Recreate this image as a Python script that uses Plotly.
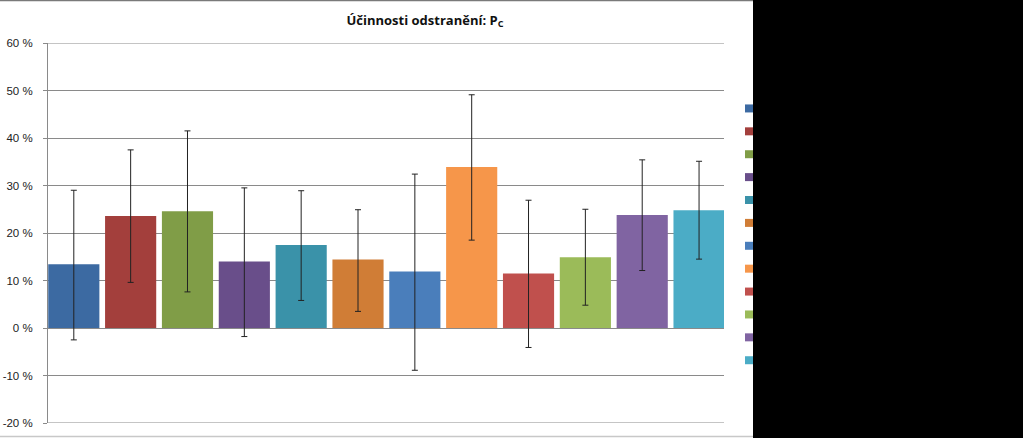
import plotly.graph_objects as go

# ---- data ----
categories = [1, 2, 3, 4, 5, 6, 7, 8, 9, 10, 11, 12]
values = [13.4, 23.6, 24.6, 14.0, 17.5, 14.4, 11.9, 33.9, 11.5, 14.9, 23.8, 24.8]
err_plus = [15.6, 13.9, 16.9, 15.5, 11.4, 10.5, 20.5, 15.2, 15.4, 10.1, 11.6, 10.3]
err_minus = [15.9, 14.0, 17.0, 15.8, 11.7, 10.9, 20.8, 15.4, 15.6, 10.1, 11.7, 10.3]
colors = ["#3C6AA2", "#A33F3C", "#809D47", "#694E8A", "#3A92A9", "#D07D36",
          "#4A7EBB", "#F6964A", "#C0504D", "#9BBB59", "#8064A2", "#4BACC6"]
tick_vals = [-20, -10, 0, 10, 20, 30, 40, 50, 60]
tick_text = ["-20 %", "-10 %", "0 %", "10 %", "20 %", "30 %", "40 %", "50 %", "60 %"]
title_text = "Účinnosti odstranění: P<sub>C</sub>"

fig = go.Figure()
fig.add_trace(go.Bar(
    x=categories, y=values, width=0.9,
    marker=dict(color=colors, line=dict(width=0)),
    error_y=dict(type="data", symmetric=False, array=err_plus, arrayminus=err_minus,
                 color="#222222", thickness=1, width=3),
    showlegend=False,
))
# legend entries (labels are hidden behind the black panel in the reference)
for c in colors:
    fig.add_trace(go.Scatter(
        x=[None], y=[None], mode="markers", name=" ",
        marker=dict(symbol="square", size=8, color=c),
    ))

GRID = "#8a8a8a"
edge_lines = [dict(type="line", xref="paper", yref="y", x0=0, x1=1, y0=v, y1=v,
                   line=dict(color=GRID, width=1), layer="below")
              for v in (tick_vals[0], tick_vals[-1])]

fig.update_layout(
    width=1023, height=438,
    margin=dict(l=48, r=299, t=43, b=15),
    paper_bgcolor="white", plot_bgcolor="white",
    font=dict(family="Liberation Sans, Arial, sans-serif", color="#222222", size=11),
    title=dict(text=title_text, x=(425 - 48) / 676, xref="paper", xanchor="center",
               y=1 - 20 / 438, yanchor="middle",
               font=dict(family="Open Sans, Liberation Sans, sans-serif", size=13,
                         color="#111111", weight="bold")),
    xaxis=dict(range=[0.546, 12.439], showticklabels=False, showgrid=False,
               zeroline=False, showline=False, ticks="", automargin=False),
    yaxis=dict(range=[-20, 60], tickvals=tick_vals, ticktext=tick_text,
               showgrid=True, gridcolor=GRID, gridwidth=1,
               zeroline=True, zerolinecolor=GRID, zerolinewidth=1,
               showline=True, linecolor=GRID, linewidth=1,
               ticks="outside", ticklen=4, tickcolor=GRID,
               ticklabelstandoff=8, automargin=False,
               tickfont=dict(size=11.5, color="#222222")),
    legend=dict(x=(729 - 48) / 676, xanchor="left", y=(423 - 92) / 380, yanchor="top",
                font=dict(size=15.3, color="black"), bgcolor="rgba(0,0,0,0)",
                itemclick=False),
    shapes=edge_lines + [
        dict(type="rect", xref="paper", yref="paper",
             x0=(753 - 48) / 676, x1=1.5, y0=-0.2, y1=1.3,
             fillcolor="black", line=dict(width=0), layer="above"),
        dict(type="line", xref="paper", yref="paper",
             x0=-0.2, x1=(753 - 48) / 676, y0=(423 - 0.5) / 380, y1=(423 - 0.5) / 380,
             line=dict(color="#7a7a7a", width=1.5)),
        dict(type="line", xref="paper", yref="paper",
             x0=-0.2, x1=(753 - 48) / 676, y0=(423 - 436.5) / 380, y1=(423 - 436.5) / 380,
             line=dict(color="#c8c8c8", width=1.5)),
    ],
)

fig.write_html("out.html")
